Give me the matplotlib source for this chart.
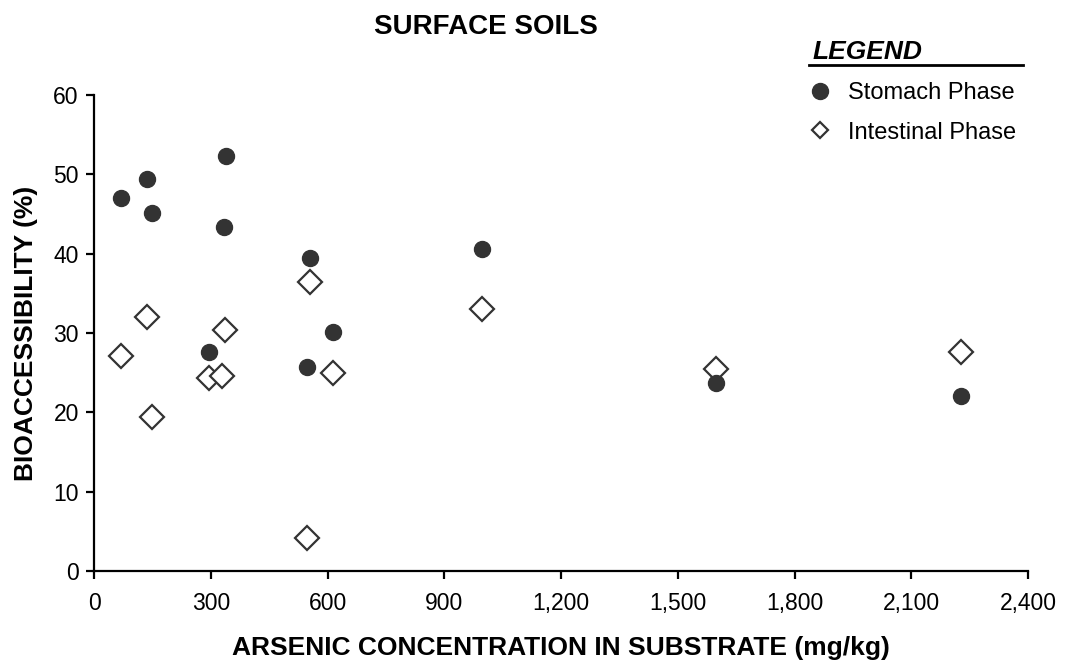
import matplotlib
matplotlib.use("Agg")
import matplotlib.pyplot as plt
from matplotlib.lines import Line2D

plt.rcParams['font.family'] = ['Liberation Sans', 'DejaVu Sans']

# arsenic concentration (mg/kg) and bioaccessibility (%)
stomach_x = [68, 135, 148, 296, 333, 338, 548, 554, 613, 998, 1598, 2228]
stomach_y = [47.0, 49.4, 45.1, 27.6, 43.4, 52.3, 25.7, 39.5, 30.1, 40.6, 23.7, 22.1]
intestinal_x = [68, 135, 148, 296, 330, 337, 547, 554, 613, 998, 1598, 2228]
intestinal_y = [27.1, 32.0, 19.4, 24.3, 24.6, 30.4, 4.2, 36.4, 24.9, 33.0, 25.5, 27.6]

x_ticks = [0, 300, 600, 900, 1200, 1500, 1800, 2100, 2400]
y_ticks = [0, 10, 20, 30, 40, 50, 60]

dark = '#333333'

fig = plt.figure(figsize=(10.65, 6.68), dpi=100)
ax = fig.add_axes([0.0883, 0.1452, 0.8770, 0.7126])

ax.plot(intestinal_x, intestinal_y, linestyle='none', marker='D', markersize=12.5,
        markerfacecolor='white', markeredgecolor=dark, markeredgewidth=1.6, clip_on=False)
ax.plot(stomach_x, stomach_y, linestyle='none', marker='o', markersize=11.5,
        markerfacecolor=dark, markeredgecolor=dark, clip_on=False)

ax.set_xlim(0, 2400)
ax.set_ylim(0, 60)
ax.set_xticks(x_ticks)
ax.set_xticklabels(['{:,}'.format(v) for v in x_ticks])
ax.set_yticks(y_ticks)

for s in ['top', 'right']:
    ax.spines[s].set_visible(False)
for s in ['left', 'bottom']:
    ax.spines[s].set_linewidth(1.6)
ax.tick_params(direction='out', length=6, width=1.6, labelsize=16.5)
ax.tick_params(axis='x', pad=9)
ax.tick_params(axis='y', pad=5)

ax.set_xlabel('ARSENIC CONCENTRATION IN SUBSTRATE (mg/kg)', fontsize=19,
              fontweight='bold', labelpad=15)
ax.set_ylabel('BIOACCESSIBILITY (%)', fontsize=19, fontweight='bold', labelpad=11)

fig.text(0.456, 0.96, 'SURFACE SOILS', fontsize=20, fontweight='bold',
         ha='center', va='center')

# legend block
fig.text(0.763, 0.922, 'LEGEND', fontsize=19, fontweight='bold', style='italic',
         ha='left', va='center')
fig.add_artist(Line2D([0.760, 0.961], [0.902, 0.902], color='black', linewidth=2))
handles = [
    Line2D([], [], linestyle='none', marker='o', markersize=11.5,
           markerfacecolor=dark, markeredgecolor=dark),
    Line2D([], [], linestyle='none', marker='D', markersize=8,
           markerfacecolor='white', markeredgecolor=dark, markeredgewidth=1.6),
]
fig.legend(handles, ['Stomach Phase', 'Intestinal Phase'], loc='upper left',
           bbox_to_anchor=(0.733, 0.909), frameon=False, fontsize=17,
           handletextpad=0.45, labelspacing=0.75, handlelength=1.5)

fig.savefig('out.png', dpi=100)
